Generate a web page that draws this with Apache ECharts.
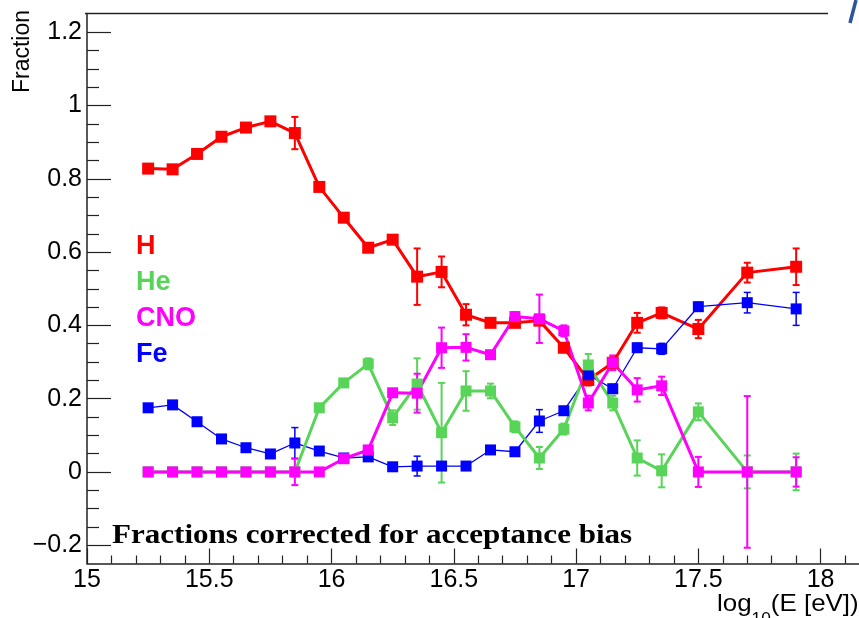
<!DOCTYPE html>
<html>
<head>
<meta charset="utf-8">
<script src="https://cdn.jsdelivr.net/npm/echarts@6/dist/echarts.min.js"></script>
<style>html,body{margin:0;padding:0;background:#fff;}#c{width:859px;height:618px;}</style>
</head>
<body>
<div id="c"></div>
<script>
// ---- data ----
const energy = [15.25,15.35,15.45,15.55,15.65,15.75,15.85,15.95,16.05,16.15,16.25,16.35,16.45,16.55,16.65,16.75,16.85,16.95,17.05,17.15,17.25,17.35,17.5,17.7,17.9];
const fracH   = [0.828,0.826,0.868,0.915,0.940,0.957,0.925,0.778,0.694,0.612,0.634,0.533,0.546,0.429,0.407,0.407,0.413,0.339,0.251,0.298,0.407,0.434,0.390,0.544,0.560];
const errH    = [0.005,0.005,0.005,0.005,0.005,0.005,0.044,0.008,0.008,0.008,0.008,0.077,0.042,0.029,0.008,0.010,0.012,0.012,0.015,0.015,0.027,0.015,0.025,0.027,0.050];
const fracFe  = [0.175,0.183,0.137,0.090,0.066,0.049,0.079,0.057,0.038,0.041,0.014,0.016,0.016,0.016,0.060,0.055,0.139,0.167,0.265,0.227,0.339,0.336,0.451,0.462,0.445];
const errFe   = [0.005,0.005,0.005,0.005,0.005,0.005,0.042,0.008,0.006,0.006,0.006,0.027,0.006,0.006,0.008,0.008,0.031,0.010,0.015,0.012,0.012,0.015,0.012,0.028,0.045];
const fracHe  = [0,0,0,0,0,0,0,0.175,0.243,0.295,0.148,0.240,0.107,0.221,0.221,0.123,0.038,0.117,0.292,0.188,0.038,0.003,0.164,0,0];
const errHe   = [0,0,0,0,0,0,0,0.010,0.010,0.015,0.020,0.070,0.136,0.054,0.020,0.015,0.030,0.015,0.030,0.020,0.048,0.045,0.023,0.045,0.050];
const fracCNO = [0,0,0,0,0,0,0,0,0.036,0.060,0.216,0.215,0.339,0.340,0.320,0.424,0.418,0.385,0.188,0.298,0.224,0.235,0,0,0];
const errCNO  = [0,0,0,0,0,0,0.036,0,0.005,0.008,0.010,0.053,0.055,0.036,0.010,0.012,0.066,0.015,0.020,0.020,0.032,0.025,0.041,0.207,0.040];
const yMajorTicks = [-0.2,0,0.2,0.4,0.6,0.8,1,1.2];
const xMajorTicks = [15,15.5,16,16.5,17,17.5,18];
const legendNames = ['H','He','CNO','Fe'];

const colors = {H:'#ff0000', He:'#58d458', CNO:'#ff00ff', Fe:'#0000ff'};

// minor tick positions (y every 0.05, x every 0.1)
const yMinorTicks = [];
for (let i = -4; i <= 24; i++) { if (i % 4 !== 0) yMinorTicks.push(+(i*0.05).toFixed(2)); }
const xMinorTicks = [];
for (let i = 150; i <= 181; i++) { if (i % 5 !== 0) xMinorTicks.push(+(i/10).toFixed(1)); }

const X_MIN = 15, X_MAX = 18.157;

function lineData(vals){ return energy.map((e,i)=>[e, vals[i]]); }
function errData(vals, errs){ return energy.map((e,i)=>[e, vals[i]-errs[i], vals[i]+errs[i]]).filter((d,i)=>errs[i]>0); }

function errSeries(name, vals, errs, color, w){
  return {
    type:'custom', name: name+'_err', data: errData(vals, errs), silent:true,
    renderItem: function(params, api){
      const x = api.value(0);
      const lo = api.coord([x, api.value(1)]);
      const hi = api.coord([x, api.value(2)]);
      const cap = 3.5;
      const st = {stroke: color, lineWidth: w};
      return {type:'group', children:[
        {type:'line', shape:{x1:lo[0], y1:lo[1], x2:hi[0], y2:hi[1]}, style:st},
        {type:'line', shape:{x1:lo[0]-cap, y1:lo[1], x2:lo[0]+cap, y2:lo[1]}, style:st},
        {type:'line', shape:{x1:hi[0]-cap, y1:hi[1], x2:hi[0]+cap, y2:hi[1]}, style:st}
      ]};
    }
  };
}
function lineSeries(name, vals, color, w, size){
  return {
    type:'line', name:name, data: lineData(vals), symbol:'rect', symbolSize:size,
    showAllSymbol:true, lineStyle:{color:color, width:w}, itemStyle:{color:color},
    emphasis:{disabled:true}
  };
}

const tickLine = {color:'#222', width:1.2};
const chart = echarts.init(document.getElementById('c'));
const option = {
  animation:false,
  backgroundColor:'#ffffff',
  grid:{left:87, right:0, top:14, bottom:54.5},
  legend:{
    orient:'vertical', left:126, top:228, itemGap:9, itemWidth:0, itemHeight:0, icon:'rect',
    selectedMode:false,
    textStyle:{fontFamily:'Liberation Sans', fontWeight:'bold', fontSize:27, lineHeight:27},
    data: legendNames.map(n=>({name:n, textStyle:{color:colors[n]}}))
  },
  xAxis:[{
    type:'value', min:X_MIN, max:X_MAX, position:'bottom',
    axisLine:{onZero:false, lineStyle:{color:'#222', width:1.5}},
    axisTick:{inside:true, length:15, customValues:xMajorTicks, lineStyle:tickLine},
    splitLine:{show:false},
    axisLabel:{customValues:xMajorTicks, color:'#000', fontFamily:'Liberation Sans', fontSize:25, margin:4,
      formatter: v => String(v)}
  },{
    type:'value', min:X_MIN, max:X_MAX, position:'bottom',
    axisLine:{show:false, onZero:false},
    axisTick:{inside:true, length:8, customValues:xMinorTicks, lineStyle:tickLine},
    axisLabel:{show:false}, splitLine:{show:false}
  }],
  yAxis:[{
    type:'value', min:-0.25, max:1.25,
    axisLine:{show:true, onZero:false, lineStyle:{color:'#222', width:1.5}},
    axisTick:{show:true, inside:true, length:24, customValues:yMajorTicks, lineStyle:tickLine},
    splitLine:{show:false},
    axisLabel:{show:true, customValues:yMajorTicks, color:'#000', fontFamily:'Liberation Sans', fontSize:25, margin:5,
      formatter: v => String(+v.toFixed(2)).replace('-', '\u2212')}
  },{
    type:'value', min:-0.25, max:1.25, position:'left',
    axisLine:{show:false, onZero:false},
    axisTick:{show:true, inside:true, length:12, customValues:yMinorTicks, lineStyle:tickLine},
    axisLabel:{show:false}, splitLine:{show:false}
  }],
  graphic:[
    {type:'line', shape:{x1:85, y1:13.5, x2:828, y2:13.5}, style:{stroke:'#222', lineWidth:1.5}, silent:true},
    {type:'line', shape:{x1:850, y1:23, x2:856, y2:0}, style:{stroke:'#2a5699', lineWidth:3.5}, silent:true},
    {type:'text', x:23, y:10, rotation:Math.PI/2, silent:true,
      style:{text:'Fraction', fontFamily:'Liberation Sans', fontSize:23, fill:'#000', align:'right', verticalAlign:'middle'}},
    {type:'text', x:112, y:536, scaleX:1.15, silent:true,
      style:{text:'Fractions corrected for acceptance bias', fontFamily:'Liberation Serif', fontWeight:'bold', fontSize:27, fill:'#000', align:'left', verticalAlign:'middle'}},
    {type:'text', x:717, y:592, scaleX:1.08, silent:true,
      style:{text:'{a|log}{s|10}{a|(E [eV])}', fill:'#000',
        rich:{a:{fontFamily:'Liberation Sans', fontSize:24, lineHeight:36, verticalAlign:'top', fill:'#000'},
              s:{fontFamily:'Liberation Sans', fontSize:16, lineHeight:36, verticalAlign:'bottom', fill:'#000'}}}}
  ],
  series:[
    errSeries('H', fracH, errH, colors.H, 2),
    lineSeries('H', fracH, colors.H, 3, 12),
    errSeries('Fe', fracFe, errFe, colors.Fe, 1.5),
    lineSeries('Fe', fracFe, colors.Fe, 1.3, 11),
    errSeries('He', fracHe, errHe, colors.He, 2),
    lineSeries('He', fracHe, colors.He, 3, 11),
    errSeries('CNO', fracCNO, errCNO, colors.CNO, 2),
    lineSeries('CNO', fracCNO, colors.CNO, 3, 11)
  ]
};
chart.setOption(option);
</script>
</body>
</html>
